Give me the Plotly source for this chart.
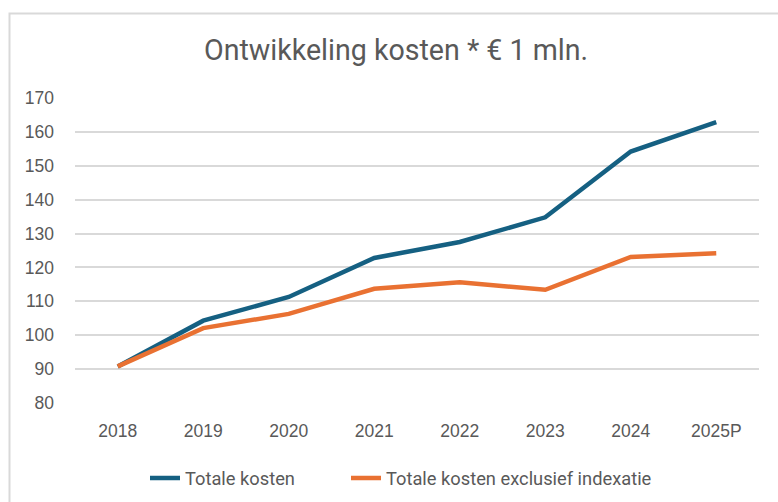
import plotly.graph_objects as go

years = ["2018", "2019", "2020", "2021", "2022", "2023", "2024", "2025P"]
totale_kosten = [90.8, 104.3, 111.3, 122.8, 127.5, 134.8, 154.2, 162.9]
excl_indexatie = [90.8, 102.1, 106.3, 113.7, 115.6, 113.4, 123.1, 124.2]
y_ticks = [80, 90, 100, 110, 120, 130, 140, 150, 160, 170]

W, H = 778, 502
ml, mr, mt, mb = 75, 19, 98, 99
pw, ph = W - ml - mr, H - mt - mb


def px_x(x):
    return (x - ml) / pw


def px_y(y):
    return (H - mb - y) / ph


fig = go.Figure()
fig.add_trace(go.Scatter(x=years, y=totale_kosten, mode="lines", name="Totale kosten",
                         line=dict(color="#156082", width=4.5), legend="legend"))
fig.add_trace(go.Scatter(x=years, y=excl_indexatie, mode="lines",
                         name="Totale kosten exclusief indexatie",
                         line=dict(color="#E97132", width=4.5), legend="legend2"))

grey = "#595959"
leg_font = dict(family="Roboto", size=18.3, color=grey)
fig.update_layout(
    width=W, height=H,
    margin=dict(l=ml, r=mr, t=mt, b=mb, autoexpand=False),
    paper_bgcolor="white", plot_bgcolor="white",
    font=dict(family="Liberation Sans", color=grey, size=17.5),
    title=dict(text="Ontwikkeling kosten * € 1 mln.", x=(396 - ml) / pw, xref="paper",
               xanchor="center", y=1 - 50 / H, yanchor="middle",
               font=dict(family="Roboto", size=28.6, color=grey)),
    xaxis=dict(type="category", range=[-0.5, len(years) - 0.5], showgrid=False,
               zeroline=False, showline=False, ticks="", ticklabelstandoff=15,
               automargin=False,
               tickfont=dict(family="Liberation Sans", size=17.5, color=grey)),
    yaxis=dict(range=[80, 170], tickvals=y_ticks, showgrid=True, gridcolor="#d9d9d9",
               gridwidth=1.5, zeroline=False, showline=False, ticks="",
               ticklabelstandoff=20, automargin=False,
               tickfont=dict(family="Liberation Sans", size=17.5, color=grey)),
    legend=dict(orientation="h", x=px_x(145), xanchor="left", y=px_y(478),
                yanchor="middle", font=leg_font, bgcolor="rgba(0,0,0,0)"),
    legend2=dict(orientation="h", x=px_x(346), xanchor="left", y=px_y(478),
                 yanchor="middle", font=leg_font, bgcolor="rgba(0,0,0,0)"),
    showlegend=True,
)

# outer chart border
fig.add_shape(type="rect", xref="paper", yref="paper",
              x0=px_x(9.5), x1=px_x(W + 10), y0=px_y(H + 10), y1=px_y(13.5),
              line=dict(color="#d9d9d9", width=2), fillcolor="rgba(0,0,0,0)", layer="below")

fig.write_html("out.html", config={"displayModeBar": False},
               post_script="document.body.style.margin='0';")
